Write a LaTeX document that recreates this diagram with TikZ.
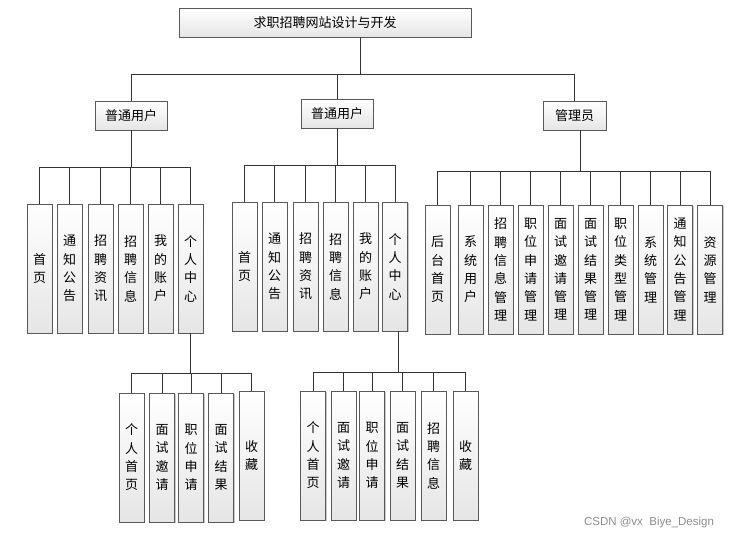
\documentclass[tikz,border=0pt]{standalone}
\usepackage{fontspec}
\newfontfamily\cjk{Noto Sans CJK SC}
\setsansfont{Liberation Sans}
\usetikzlibrary{shadows}
\begin{document}
\begin{tikzpicture}[x=1pt,y=-1pt,
  box/.style={draw=black!65, line width=0.8pt, top color=white, bottom color=black!10,
    inner sep=0pt, align=center, font=\cjk\fontsize{13}{18.3}\selectfont,
    drop shadow={shadow xshift=1pt, shadow yshift=-1pt, fill=black!35, opacity=0.6}},
  hbox/.style={box, minimum height=29pt},
  vbox/.style={box, minimum width=25pt, minimum height=129pt},
  link/.style={draw=black!80, line width=0.8pt}]
\useasboundingbox (0,0) rectangle (734,535);
\fill[white] (0,0) rectangle (734,535);

% level 1 and 2
\node[hbox, minimum width=292pt] (root) at (325,22.5) {求职招聘网站设计与开发};
\node[hbox, minimum width=72pt] (u1) at (131,115.5) {普通用户};
\node[hbox, minimum width=72pt] (u2) at (337,113.5) {普通用户};
\node[hbox, minimum width=63pt] (adm) at (574.5,115.5) {管理员};

\coordinate (rt) at ([xshift=35pt]root.south);
\coordinate (bus0) at (0,74);
\draw[link] (rt) -- (rt |- bus0);
\foreach \c in {u1,u2,adm} \draw[link] (rt |- bus0) -| (\c.north);

% level 3, group 1
\foreach \x/\t [count=\i] in {39.5/首\\页, 69.5/通\\知\\公\\告, 100.5/招\\聘\\资\\讯,
  130.5/招\\聘\\信\\息, 160.5/我\\的\\账\\户, 190.5/个\\人\\中\\心}
  \node[vbox] (p\i) at (\x,268.5) {\t};
\coordinate (b1) at (0,167);
\foreach \i in {1,...,6} \draw[link] (u1.south) |- (p\i.north |- b1) -- (p\i.north);

% level 3, group 2
\foreach \x/\t [count=\i] in {244.5/首\\页, 274.5/通\\知\\公\\告, 305.5/招\\聘\\资\\讯,
  335.5/招\\聘\\信\\息, 365.5/我\\的\\账\\户, 395/个\\人\\中\\心}
  \node[vbox] (q\i) at (\x,266.5) {\t};
\coordinate (b2) at (0,165);
\foreach \i in {1,...,6} \draw[link] (u2.south) |- (q\i.north |- b2) -- (q\i.north);

% level 3, group 3
\foreach \x/\t [count=\i] in {437.5/后\\台\\首\\页, 470.5/系\\统\\用\\户,
  500.5/招\\聘\\信\\息\\管\\理, 530.5/职\\位\\申\\请\\管\\理, 560.5/面\\试\\邀\\请\\管\\理,
  590.5/面\\试\\结\\果\\管\\理, 620.5/职\\位\\类\\型\\管\\理, 650.5/系\\统\\管\\理,
  680/通\\知\\公\\告\\管\\理, 710/资\\源\\管\\理}
  \node[vbox] (r\i) at (\x,269.5) {\t};
\coordinate (as) at ([xshift=5.5pt]adm.south);
\coordinate (b3) at (0,171);
\foreach \i in {1,...,10} \draw[link] (as) |- (r\i.north |- b3) -- (r\i.north);

% level 4, group 1
\foreach \x/\y/\t [count=\i] in {131.5/457.5/个\\人\\首\\页, 162/457.5/面\\试\\邀\\请,
  191/457.5/职\\位\\申\\请, 221/457.5/面\\试\\结\\果, 251.5/455.5/收\\藏}
  \node[vbox] (s\i) at (\x,\y) {\t};
\coordinate (b4) at (0,373);
\foreach \i in {1,...,5} \draw[link] (p6.south) |- (s\i.north |- b4) -- (s\i.north);

% level 4, group 2
\foreach \x/\t [count=\i] in {313/个\\人\\首\\页, 343.5/面\\试\\邀\\请, 372/职\\位\\申\\请,
  402.5/面\\试\\结\\果, 433.5/招\\聘\\信\\息, 465.5/收\\藏}
  \node[vbox] (w\i) at (\x,455.5) {\t};
\coordinate (qs) at ([xshift=3pt]q6.south);
\coordinate (b5) at (0,372);
\foreach \i in {1,...,6} \draw[link] (qs) |- (w\i.north |- b5) -- (w\i.north);

% watermark
\node[text=black!45, font=\sffamily\fontsize{11.5}{13}\selectfont] (wm) at (649,523) {CSDN @vx\ \ Biye\_Design};
\end{tikzpicture}
\end{document}
